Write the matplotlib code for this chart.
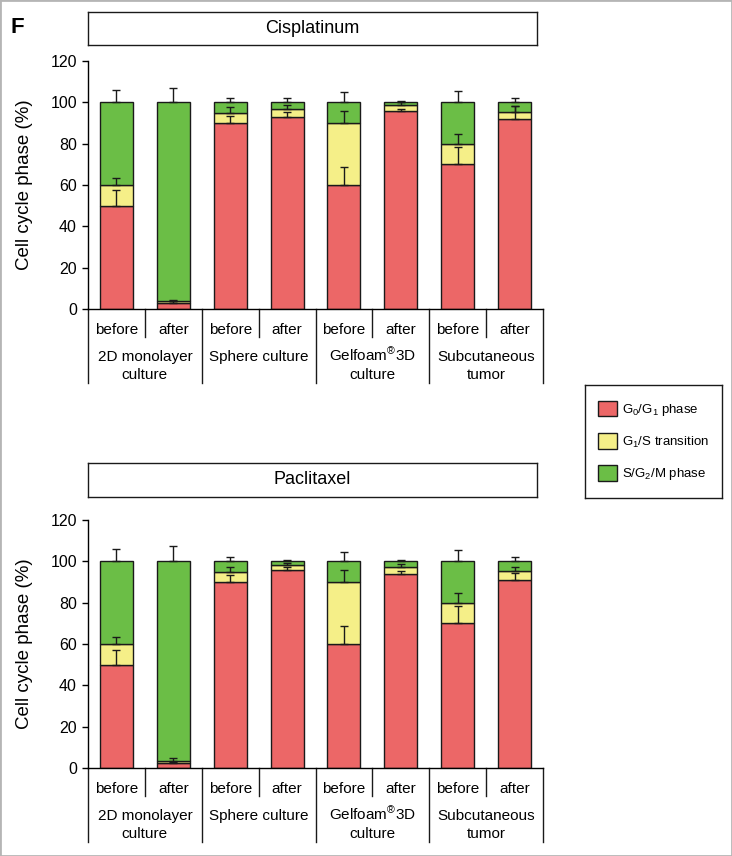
import matplotlib
matplotlib.use("Agg")
import matplotlib.pyplot as plt
from matplotlib.patches import Rectangle, Patch
from matplotlib.transforms import blended_transform_factory
import numpy as np

plt.rcParams['font.family'] = ['Liberation Sans', 'DejaVu Sans']
plt.rcParams['mathtext.fontset'] = 'custom'
plt.rcParams['mathtext.rm'] = 'Liberation Sans'
plt.rcParams['mathtext.it'] = 'Liberation Sans'
plt.rcParams['mathtext.bf'] = 'Liberation Sans:bold'

# ---- data ----
conditions = ["before", "after", "before", "after", "before", "after", "before", "after"]
groups = [["2D monolayer", "culture"], ["Sphere culture"],
          ["Gelfoam$^{®}$3D", "culture"], ["Subcutaneous", "tumor"]]
phases = ["G$_0$/G$_1$ phase", "G$_1$/S transition", "S/G$_2$/M phase"]
yticks = [0, 20, 40, 60, 80, 100, 120]

cis_g0g1 = [50, 3, 90, 93, 60, 96, 70, 92]
cis_g1s = [10, 1, 5, 3.6, 30, 2.7, 10, 3.5]
cis_sg2m = [40, 96, 5, 3.4, 10, 1.3, 20, 4.5]
cis_err_g0g1 = [7.7, 1.0, 3.2, 2.5, 8.7, 0.8, 8.2, 6.2]
cis_err_g1s = [3.2, 0.5, 2.6, 2.0, 6.0, 1.5, 4.7, 2.7]
cis_err_sg2m = [6.0, 7.0, 2.0, 2.0, 4.8, 0.6, 5.6, 1.9]

pac_g0g1 = [50, 2.3, 90, 96, 60, 94, 70, 91]
pac_g1s = [10, 1.2, 5, 2.2, 30, 3.4, 10, 4.5]
pac_sg2m = [40, 96.5, 5, 1.8, 10, 2.6, 20, 4.5]
pac_err_g0g1 = [7.3, 0.5, 3.2, 1.5, 8.5, 1.5, 8.4, 3.5]
pac_err_g1s = [3.2, 1.2, 2.4, 1.0, 6.0, 1.1, 4.5, 1.9]
pac_err_sg2m = [5.8, 7.4, 1.9, 0.8, 4.7, 0.6, 5.5, 1.9]

colors = ["#EC6767", "#F5EF88", "#6BBE46"]
edge = "#1a1a1a"

W, H = 732, 856
fig = plt.figure(figsize=(W / 100, H / 100), dpi=100)


def fx(px):
    return px / W


def fy(py):
    return 1 - py / H


def make_panel(y_top120, y_zero, box_top, box_bot, title, g0, g1, g2, e0, e1, e2):
    ax = fig.add_axes([fx(88), fy(y_zero), fx(543) - fx(88), (y_zero - y_top120) / H])
    n = len(conditions)
    x = np.arange(n) + 0.5
    w = 0.58
    g0 = np.array(g0); g1 = np.array(g1); g2 = np.array(g2)
    ax.bar(x, g0, w, color=colors[0], edgecolor=edge, linewidth=1.0, zorder=2)
    ax.bar(x, g1, w, bottom=g0, color=colors[1], edgecolor=edge, linewidth=1.0, zorder=2)
    ax.bar(x, g2, w, bottom=g0 + g1, color=colors[2], edgecolor=edge, linewidth=1.0, zorder=2)
    tops = [g0, g0 + g1, g0 + g1 + g2]
    for t, e in zip(tops, [e0, e1, e2]):
        ax.errorbar(x, t, yerr=[np.zeros(n), e], fmt='none', ecolor=edge,
                    elinewidth=1.0, capsize=3, capthick=1.0, zorder=3)
    ax.set_xlim(0, n)
    ax.set_ylim(0, 120)
    ax.set_yticks(yticks)
    ax.set_xticks([])
    ax.tick_params(axis='y', direction='out', length=4, width=1.0, labelsize=11.5, pad=4)
    for s in ['top', 'right']:
        ax.spines[s].set_visible(False)
    ax.spines['left'].set_linewidth(1.0)
    ax.spines['bottom'].set_linewidth(1.0)
    ax.set_ylabel("Cell cycle phase (%)", fontsize=13.5)
    ax.yaxis.set_label_coords((33 - 88) / 455, 0.5)

    hpx = y_zero - y_top120
    tr = blended_transform_factory(ax.transData, ax.transAxes)
    # dividers
    for i in range(n + 1):
        depth = 74 if i % 2 == 0 else 28
        ax.plot([i, i], [0, -depth / hpx], transform=tr, color=edge, lw=1.0, clip_on=False)
    for i, c in enumerate(conditions):
        ax.text(i + 0.5, -25 / hpx, c, transform=tr, ha='center', va='baseline', fontsize=11)
    for j, lines in enumerate(groups):
        for k, line in enumerate(lines):
            ax.text(2 * j + 1, -(52 + 18 * k) / hpx, line, transform=tr, ha='center',
                    va='baseline', fontsize=11)

    tax = fig.add_axes([fx(88), fy(box_bot), fx(537) - fx(88), (box_bot - box_top) / H])
    tax.set_xticks([]); tax.set_yticks([])
    for s in tax.spines.values():
        s.set_linewidth(1.0)
        s.set_color(edge)
    tax.text(0.5, 0.5, title, ha='center', va='center', fontsize=13, transform=tax.transAxes)
    return ax


make_panel(61, 309, 12, 45, "Cisplatinum", cis_g0g1, cis_g1s, cis_sg2m,
           cis_err_g0g1, cis_err_g1s, cis_err_sg2m)
make_panel(520, 768, 463, 497, "Paclitaxel", pac_g0g1, pac_g1s, pac_sg2m,
           pac_err_g0g1, pac_err_g1s, pac_err_sg2m)

# legend
lax = fig.add_axes([fx(585), fy(498), fx(722) - fx(585), (498 - 385) / H])
lax.set_xticks([]); lax.set_yticks([])
for s in lax.spines.values():
    s.set_linewidth(1.0)
    s.set_color(edge)
handles = [Patch(facecolor=c, edgecolor=edge, linewidth=1.0) for c in colors]
lax.legend(handles, phases, loc='center', frameon=False, fontsize=9.5,
           handlelength=1.4, handleheight=1.4, labelspacing=1.2, handletextpad=0.4,
           borderpad=0)

fig.text(fx(10), fy(33), "F", fontsize=16, fontweight='bold', va='baseline', ha='left')

fig.patches.append(Rectangle((0, 0), 1, 1, transform=fig.transFigure, fill=False,
                             edgecolor='#b5b5b5', linewidth=2.0))

fig.savefig("out.png", dpi=100)
